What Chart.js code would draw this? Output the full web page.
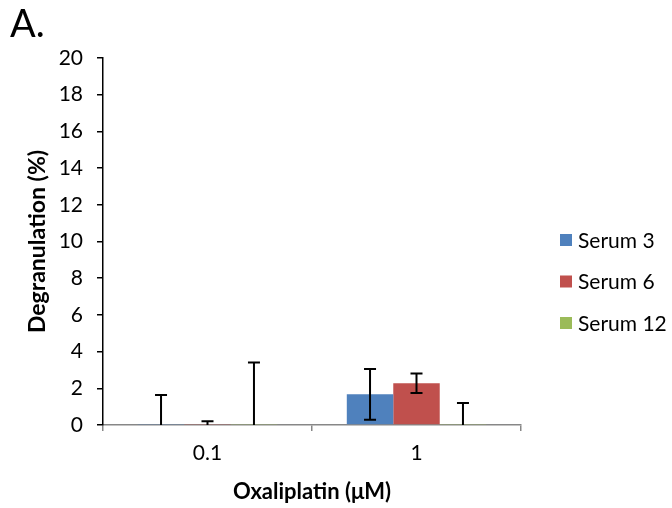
<!DOCTYPE html>
<html>
<head>
<meta charset="utf-8">
<script src="https://cdn.jsdelivr.net/npm/chart.js@4"></script>
<style>
  html, body { margin: 0; padding: 0; background: #fff; }
  #wrap { width: 672px; height: 508px; }
</style>
</head>
<body>
<div id="wrap"><canvas id="chart" width="672" height="508"></canvas></div>
<script>
// data
const doses = ['0.1', '1'];
const serum3 = [0, 1.67];
const serum6 = [0, 2.27];
const serum12 = [0, 0];
const err3 = [1.63, 1.38];
const err6 = [0.2, 0.53];
const err12 = [3.4, 1.2];
const yTicks = [0, 2, 4, 6, 8, 10, 12, 14, 16, 18, 20];

const FONT = 'Lato, "Open Sans", sans-serif';

// error bars drawn from the bar elements, lower half dropped when it goes below zero
const errorBars = {
  id: 'errorBars',
  afterDatasetsDraw(chart) {
    const ctx = chart.ctx;
    const y = chart.scales.y;
    ctx.save();
    ctx.strokeStyle = '#000';
    ctx.lineWidth = 2;
    chart.data.datasets.forEach((ds, i) => {
      const meta = chart.getDatasetMeta(i);
      meta.data.forEach((bar, j) => {
        const v = ds.data[j], e = ds.errors[j];
        const x = bar.x;
        const top = y.getPixelForValue(v + e);
        const lo = v - e;
        const bottom = lo >= 0 ? y.getPixelForValue(lo) : y.getPixelForValue(0);
        ctx.beginPath();
        ctx.moveTo(x, bottom);
        ctx.lineTo(x, top);
        ctx.moveTo(x - 6, top);
        ctx.lineTo(x + 6, top);
        if (lo >= 0) {
          ctx.moveTo(x - 6, bottom);
          ctx.lineTo(x + 6, bottom);
        }
        ctx.stroke();
      });
    });
    ctx.restore();
  }
};

// legend on the right, built from the datasets
const sideLegend = {
  id: 'sideLegend',
  afterDraw(chart) {
    const ctx = chart.ctx;
    const x0 = 560, y0 = 240, step = 41.5;
    ctx.save();
    ctx.font = '21px ' + FONT;
    ctx.textBaseline = 'middle';
    ctx.textAlign = 'left';
    chart.data.datasets.forEach((ds, i) => {
      const cy = y0 + i * step;
      ctx.fillStyle = ds.backgroundColor;
      ctx.fillRect(x0, cy - 6, 12, 12);
      ctx.fillStyle = '#000';
      ctx.fillText(ds.label, x0 + 18, cy + 1);
    });
    ctx.restore();
  }
};

const ctx = document.getElementById('chart').getContext('2d');
const chart = new Chart(ctx, {
  type: 'bar',
  data: {
    labels: doses,
    datasets: [
      { label: 'Serum 3', data: serum3, errors: err3, backgroundColor: '#4F81BD' },
      { label: 'Serum 6', data: serum6, errors: err6, backgroundColor: '#C0504D' },
      { label: 'Serum 12', data: serum12, errors: err12, backgroundColor: '#9BBB59' }
    ]
  },
  options: {
    responsive: false,
    animation: false,
    devicePixelRatio: 1,
    layout: { padding: { left: 10, right: 151, top: 0, bottom: 1 } },
    datasets: { bar: { categoryPercentage: 0.667, barPercentage: 1, minBarLength: 1 } },
    scales: {
      x: {
        grid: { drawOnChartArea: false, drawTicks: true, tickLength: 6, color: '#878787', lineWidth: 1.5, offset: true },
        border: { color: '#878787', width: 1.5 },
        ticks: { color: '#000', padding: 10, font: { family: FONT, size: 21 } },
        title: { display: true, text: 'Oxaliplatin (μM)', color: '#000', padding: { top: 2.6, bottom: 1.8 }, font: { family: FONT, size: 22, weight: 'bold' } }
      },
      y: {
        min: 0, max: 20,
        afterBuildTicks(s) { s.ticks = yTicks.map(v => ({ value: v })); },
        afterFit(s) { s.width = 93; },
        grid: { drawOnChartArea: false, drawTicks: true, tickLength: 6, color: '#000', lineWidth: 1.5 },
        border: { color: '#000', width: 1.5 },
        ticks: { color: '#000', padding: 14, font: { family: FONT, size: 21 } },
        title: { display: true, text: 'Degranulation (%)', color: '#000', padding: { top: 14, bottom: 4 }, font: { family: FONT, size: 23, weight: 'bold' } }
      }
    },
    plugins: {
      title: {
        display: true, text: 'A.', align: 'start', color: '#000',
        padding: { top: 2, bottom: 10.4 },
        font: { family: FONT, size: 38, weight: 'normal', lineHeight: 1.2 }
      },
      legend: { display: false },
      tooltip: { enabled: false }
    }
  },
  plugins: [errorBars, sideLegend]
});
</script>
</body>
</html>
